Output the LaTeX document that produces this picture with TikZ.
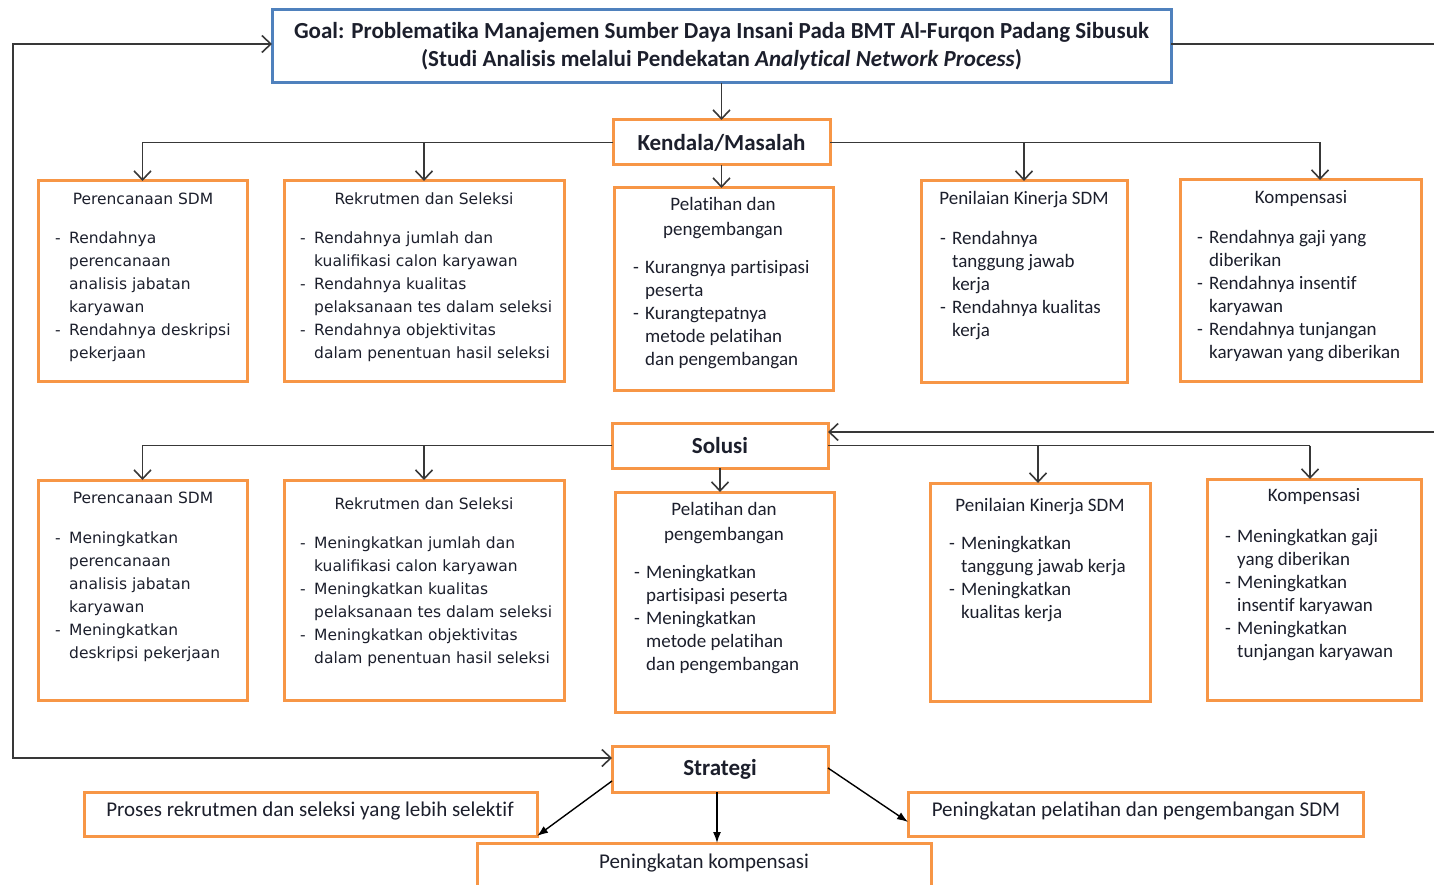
\documentclass[tikz,border=0pt]{standalone}
\usepackage{fontspec}
\setmainfont{Carlito}[RawFeature={-liga;-clig;-calt;-dlig}]
\newfontfamily\dvfont{DejaVu Sans}
\usetikzlibrary{arrows.meta}
\definecolor{obor}{HTML}{F79646}
\definecolor{bbor}{HTML}{4F81BD}
\definecolor{txt}{HTML}{1C1F2C}
\definecolor{lnc}{HTML}{383838}
\newcommand\dD{\makebox[14pt][l]{-}}
\newcommand\dI{\hspace*{14pt}}
\newcommand\kD{\makebox[12pt][l]{-}}
\newcommand\kI{\hspace*{12pt}}
\newcommand\fs{\rule{0pt}{16pt}}
\tikzset{
  obox/.style={draw=obor, line width=3pt, fill=white, inner sep=0pt, outer sep=0pt},
  gbox/.style={draw=bbor, line width=3pt, fill=white, inner sep=0pt, outer sep=0pt},
  barb/.tip={Straight Barb[length=9pt,width=17pt,line width=1.6pt]},
  conn/.style={draw=lnc, line width=1.8pt, -barb},
  conn2/.style={draw=lnc, line width=1.8pt, barb-barb},
  plain/.style={draw=lnc, line width=1.8pt},
  farr/.style={draw=black, line width=1.4pt, -{Latex[length=11pt,width=8pt]}},
  kbody/.style={font=\fontsize{19}{23}\selectfont, text=txt, align=left, anchor=north west, inner sep=0pt},
  dbody/.style={font=\dvfont\fontsize{15.5}{23}\selectfont, text=txt, align=left, anchor=north west, inner sep=0pt},
  ktitle/.style={font=\fontsize{19}{25}\selectfont, text=txt, align=center, inner sep=0pt},
  dtitle/.style={font=\dvfont\fontsize{15.5}{23}\selectfont, text=txt, inner sep=0pt},
  head/.style={font=\bfseries\fontsize{23}{28}\selectfont, text=txt, align=center},
  stext/.style={font=\fontsize{21}{25}\selectfont, text=txt, inner sep=0pt},
}
\begin{document}
\begin{tikzpicture}[x=1pt,y=-1pt]
\useasboundingbox (0,0) rectangle (1434,885);
\clip (0,0) rectangle (1434,885);
% main boxes
\node[gbox, minimum width=899pt, minimum height=73pt, head] (goal) at (721.5,46.5)
  {Goal: Problematika Manajemen Sumber Daya Insani Pada BMT Al-Furqon Padang Sibusuk\\
   (Studi Analisis melalui Pendekatan \textit{Analytical Network Process})};
\node[obox, minimum width=217pt, minimum height=45pt, head] (kend) at (721.5,142.5) {Kendala/Masalah};
\node[obox, minimum width=216pt, minimum height=45pt, head] (sol) at (720,445.5) {Solusi};
\node[obox, minimum width=216pt, minimum height=46pt, head] (strat) at (720,769) {Strategi};

% row 1 boxes
\node[obox, minimum width=209pt, minimum height=200pt] (a1) at (142.5,281) {};
\node[obox, minimum width=280pt, minimum height=200pt] (a2) at (424,281) {};
\node[obox, minimum width=219pt, minimum height=202pt] (a3) at (723.5,289) {};
\node[obox, minimum width=206pt, minimum height=201pt] (a4) at (1024,281.5) {};
\node[obox, minimum width=241pt, minimum height=201pt] (a5) at (1300.5,280.5) {};
% row 2 boxes
\node[obox, minimum width=209pt, minimum height=220pt] (b1) at (142.5,590) {};
\node[obox, minimum width=280pt, minimum height=220pt] (b2) at (424,590) {};
\node[obox, minimum width=219pt, minimum height=220pt] (b3) at (724.5,602) {};
\node[obox, minimum width=220pt, minimum height=218pt] (b4) at (1040,592) {};
\node[obox, minimum width=214pt, minimum height=221pt] (b5) at (1314,589.5) {};
% strategy boxes
\node[obox, minimum width=453pt, minimum height=44pt] (s1) at (310.5,814) {};
\node[obox, minimum width=455pt, minimum height=44pt] (s2) at (1135.5,814) {};
\node[obox, minimum width=454pt, minimum height=62pt] (s3) at (704,874) {};

% row 1 texts
\node[dtitle] (a1t) at (143,199) {Perencanaan SDM};
\node[dbody] (a1b) at (55,227) {\fs\dD Rendahnya\\ \dI perencanaan\\ \dI analisis jabatan\\ \dI karyawan\\ \dD Rendahnya deskripsi\\ \dI pekerjaan};
\node[dtitle] (a2t) at (424,199) {Rekrutmen dan Seleksi};
\node[dbody] (a2b) at (300,227) {\fs\dD Rendahnya jumlah dan\\ \dI kualifikasi calon karyawan\\ \dD Rendahnya kualitas\\ \dI pelaksanaan tes dalam seleksi\\ \dD Rendahnya objektivitas\\ \dI dalam penentuan hasil seleksi};
\node[ktitle, anchor=north] (a3t) at (723,194) {\fs Pelatihan dan\\ pengembangan};
\node[kbody] (a3b) at (633,257) {\fs\kD Kurangnya partisipasi\\ \kI peserta\\ \kD Kurangtepatnya\\ \kI metode pelatihan\\ \kI dan pengembangan};
\node[ktitle, anchor=north] (a4t) at (1024,188) {\fs Penilaian Kinerja SDM};
\node[kbody] (a4b) at (940,228) {\fs\kD Rendahnya\\ \kI tanggung jawab\\ \kI kerja\\ \kD Rendahnya kualitas\\ \kI kerja};
\node[ktitle, anchor=north] (a5t) at (1301,187) {\fs Kompensasi};
\node[kbody] (a5b) at (1197,227) {\fs\kD Rendahnya gaji yang\\ \kI diberikan\\ \kD Rendahnya insentif\\ \kI karyawan\\ \kD Rendahnya tunjangan\\ \kI karyawan yang diberikan};

% row 2 texts
\node[dtitle] (b1t) at (143,498) {Perencanaan SDM};
\node[dbody] (b1b) at (55,527) {\fs\dD Meningkatkan\\ \dI perencanaan\\ \dI analisis jabatan\\ \dI karyawan\\ \dD Meningkatkan\\ \dI deskripsi pekerjaan};
\node[dtitle] (b2t) at (424,504) {Rekrutmen dan Seleksi};
\node[dbody] (b2b) at (300,532) {\fs\dD Meningkatkan jumlah dan\\ \dI kualifikasi calon karyawan\\ \dD Meningkatkan kualitas\\ \dI pelaksanaan tes dalam seleksi\\ \dD Meningkatkan objektivitas\\ \dI dalam penentuan hasil seleksi};
\node[ktitle, anchor=north] (b3t) at (724,499) {\fs Pelatihan dan\\ pengembangan};
\node[kbody] (b3b) at (634,562) {\fs\kD Meningkatkan\\ \kI partisipasi peserta\\ \kD Meningkatkan\\ \kI metode pelatihan\\ \kI dan pengembangan};
\node[ktitle, anchor=north] (b4t) at (1040,495) {\fs Penilaian Kinerja SDM};
\node[kbody] (b4b) at (949,533) {\fs\kD Meningkatkan\\ \kI tanggung jawab kerja\\ \kD Meningkatkan\\ \kI kualitas kerja};
\node[ktitle, anchor=north] (b5t) at (1314,485) {\fs Kompensasi};
\node[kbody] (b5b) at (1225,526) {\fs\kD Meningkatkan gaji\\ \kI yang diberikan\\ \kD Meningkatkan\\ \kI insentif karyawan\\ \kD Meningkatkan\\ \kI tunjangan karyawan};

% strategy texts
\node[stext] (s1t) at (310,811) {Proses rekrutmen dan seleksi yang lebih selektif};
\node[stext] (s2t) at (1136,811) {Peningkatan pelatihan dan pengembangan SDM};
\node[stext] (s3t) at (704,863) {Peningkatan kompensasi};

% connectors
\draw[conn] (goal.south) -- (kend.north);
\draw[conn] (kend.west) -| (a1.north);
\draw[conn] (kend.west -| a2.north) -- (a2.north);
\draw[conn] (kend.south) -- (kend.south |- a3.north);
\draw[conn] (kend.east) -| (a4.north);
\coordinate (k5) at (1320,142.5);
\draw[conn] (kend.east) -- (k5) -- (k5 |- a5.north);

\draw[conn] (sol.west) -| (b1.north);
\draw[conn] (sol.west -| b2.north) -- (b2.north);
\draw[conn] (sol.south) -- (sol.south |- b3.north);
\coordinate (l4) at (1038,445.5);
\coordinate (l5) at (1310,445.5);
\draw[plain] (sol.east) -- (l5);
\draw[conn] (l4) -- (l4 |- b4.north);
\draw[conn] (l5) -- (l5 |- b5.north);

\coordinate (lc) at (13,44);
\draw[conn2] ([yshift=2.5pt]goal.west) -- (lc) |- ([yshift=11pt]strat.west);
\coordinate (rc1) at (1450,44);
\coordinate (rc2) at (1450,432);
\draw[conn] ([yshift=2.5pt]goal.east) -- (rc1) -- (rc2) -- ([yshift=13.5pt]sol.east);

\draw[farr] ([yshift=-12pt]strat.west) -- (s1.south east);
\draw[farr] ([yshift=1pt]strat.east) -- ([yshift=-8pt]s2.west);
\draw[farr] ([xshift=-3pt]strat.south) -- ([xshift=-3pt]strat.south |- s3.north);
\end{tikzpicture}
\end{document}
